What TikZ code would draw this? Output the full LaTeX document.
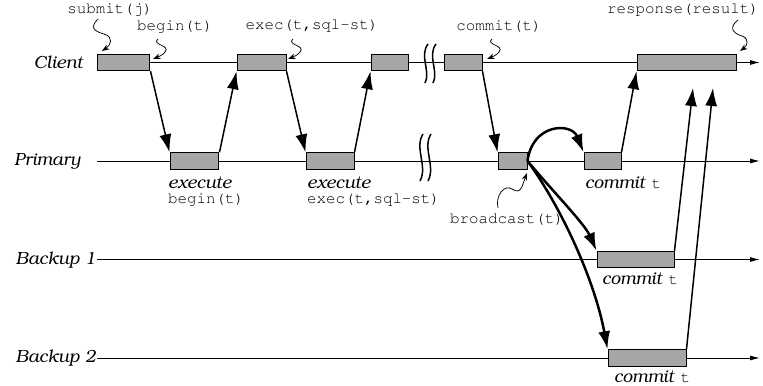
\documentclass[tikz,border=0pt]{standalone}
\usepackage[T1]{fontenc}
\usepackage{bookman}
\usetikzlibrary{arrows.meta,positioning}

\tikzset{
	tbox/.style={draw, fill=black!35, line width=0.2mm, minimum height=0.33cm, inner sep=0pt},
	tline/.style={line width=0.2mm, -{Latex[length=2mm,width=1mm]}},
	msg/.style={line width=0.3mm, -{Latex[length=3.6mm,width=2.4mm]}},
	bcast/.style={line width=0.5mm, -{Latex[length=3.6mm,width=2.4mm]}},
	ptr/.style={line width=0.15mm, -{Stealth[length=1.5mm,width=1.1mm]}},
	gap/.style={line width=0.3mm},
	proc/.style={font=\itshape, anchor=east, inner sep=0pt},
	call/.style={font=\ttfamily\small, inner sep=1pt},
	note/.style={anchor=west, inner sep=1pt},
}

\begin{document}
\begin{tikzpicture}[x=0.02cm, y=-0.02cm]
		%%%%% START %%%%%
		\useasboundingbox (0,0) rectangle (763,385);
		
		% processes
		\node[proc] (client) at (83,62.5) {Client};
		\node[proc] (primary) at (81,161) {Primary};
		\node[proc] (backup1) at (96,259.5) {Backup 1};
		\node[proc] (backup2) at (96,358) {Backup 2};
		
		\draw[tline] (97,62.5) -- (760,62.5);
		\draw[tline] (97,161) -- (760,161);
		\draw[tline] (97,259.5) -- (760,259.5);
		\draw[tline] (97,358) -- (760,358);
		
		% time gaps
		\draw[gap] (428,44) .. controls (419,56) and (431,71) .. (425,83);
		\draw[gap] (436,44) .. controls (427,56) and (439,71) .. (433,83);
		\draw[gap] (423,134) .. controls (414,148) and (428,166) .. (420,181);
		\draw[gap] (431,134) .. controls (422,148) and (436,166) .. (428,181);
		
		% client boxes
		\node[tbox, minimum width=1.06cm] (c1) at (123.5,62.5) {};
		\node[tbox, minimum width=0.98cm] (c2) at (261.5,62.5) {};
		\node[tbox, minimum width=0.74cm] (c3) at (389.5,62.5) {};
		\node[tbox, minimum width=0.76cm] (c4) at (463,62.5) {};
		\node[tbox, minimum width=1.98cm] (c5) at (686.5,62.5) {};
		
		% primary boxes
		\node[tbox, minimum width=0.98cm] (p1) at (194.5,161) {};
		\node[tbox, minimum width=0.96cm] (p2) at (330,161) {};
		\node[tbox, minimum width=0.58cm] (p3) at (512.5,161) {};
		\node[tbox, minimum width=0.74cm] (p4) at (602.5,161) {};
		
		% backup boxes
		\node[tbox, minimum width=1.54cm] (b1) at (635.5,259.5) {};
		\node[tbox, minimum width=1.56cm] (b2) at (647,358) {};
		
		% requests and replies
		\draw[msg] (c1.south east) -- (p1.north west);
		\draw[msg] (p1.north east) -- (c2.south west);
		\draw[msg] (c2.south east) -- (p2.north west);
		\draw[msg] (p2.north east) -- (c3.south west);
		\draw[msg] (c4.south east) -- (p3.north west);
		\draw[msg] (p4.north east) -- (c5.south west);
		
		\coordinate (r1) at (693,88);
		\coordinate (r2) at (713,88);
		\draw[msg] (b1.north east) -- (r1);
		\draw[msg] (b2.north east) -- (r2);
		
		% broadcast
		\draw[bcast] (p3.east) .. controls +(5,-38) and +(-12,-30) .. (p4.north west);
		\draw[bcast] (p3.east) .. controls +(25,30) and +(-12,-27) .. (b1.north west);
		\draw[bcast] (p3.east) .. controls +(33,45) and +(-13,-70) .. (b2.north west);
		
		% calls
		\node[call] (submit) at (110,10) {submit(j)};
		\node[call] (begin) at (175,27) {begin(t)};
		\node[call] (exec) at (312,26) {exec(t,sql-st)};
		\node[call] (commit) at (499,26) {commit(t)};
		\node[call] (response) at (683,10) {response(result)};
		\node[call] (bcst) at (507,219) {broadcast(t)};
		
		\draw[ptr] (98,19) .. controls (90,27) and (93,31) .. (104,34) .. controls (114,37) and (111,45) .. (102,51);
		\draw[ptr] (158,39) .. controls (151,45) and (171,45) .. (165,52) .. controls (163,55) and (158,57) .. (153,59);
		\draw[ptr] (293,39) .. controls (286,45) and (306,45) .. (300,52) .. controls (298,55) and (293,57) .. (288,59);
		\draw[ptr] (492,39) .. controls (485,45) and (505,45) .. (499,52) .. controls (497,55) and (492,57) .. (487,59);
		\draw[ptr] (738,20) .. controls (729,27) and (732,33) .. (742,36) .. controls (750,39) and (747,46) .. (740,51);
		\draw[ptr] (498,208) .. controls (495,195) and (505,184) .. (512,189) .. controls (521,195) and (522,186) .. (527,173);
		
		% notes under the boxes
		\node[note] (ex1) at (166,183) {\itshape execute};
		\node[note, font=\ttfamily\small] (ex1c) at (166,200) {begin(t)};
		\node[note] (ex2) at (305,183) {\itshape execute};
		\node[note, font=\ttfamily\small] (ex2c) at (305,200) {exec(t,sql-st)};
		\node[note] (cm1) at (583,183) {\textit{commit} \texttt{\small t}};
		\node[note] (cm2) at (600,279) {\textit{commit} \texttt{\small t}};
		\node[note] (cm3) at (612,377) {\textit{commit} \texttt{\small t}};
		
		%%%%% END %%%%%
\end{tikzpicture}
\end{document}
